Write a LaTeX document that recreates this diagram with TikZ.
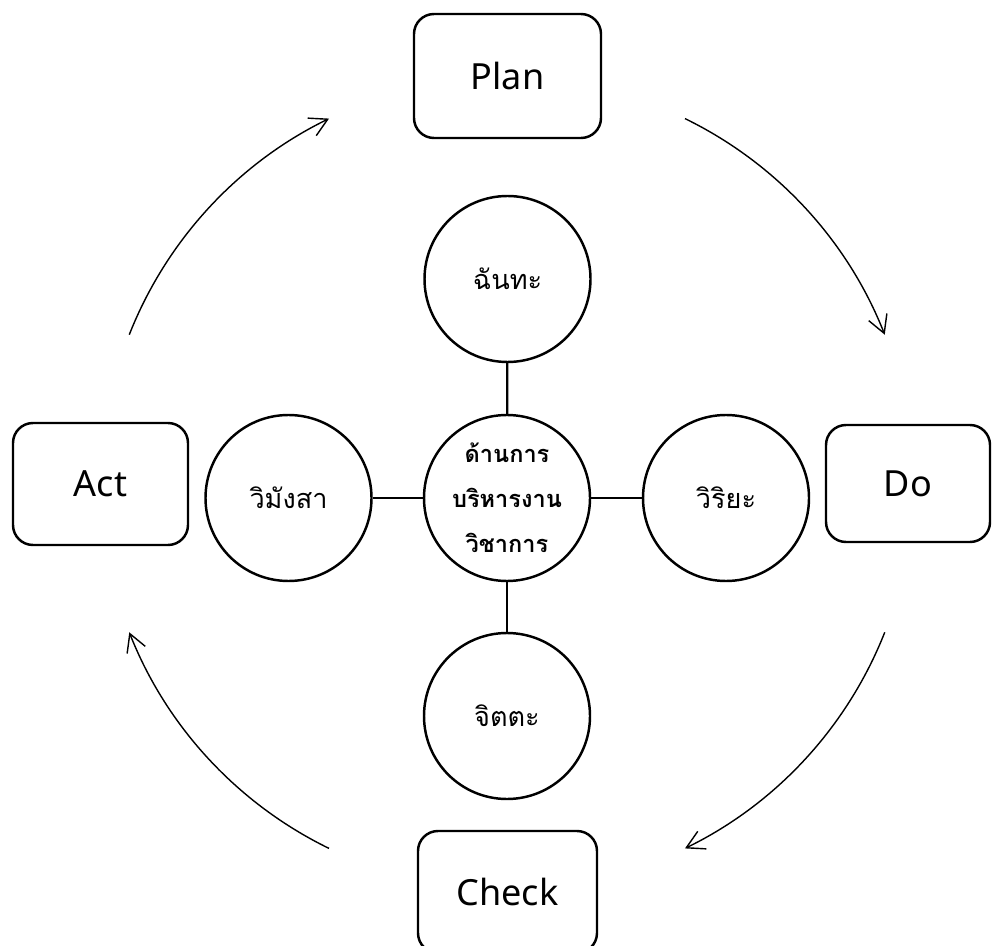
\documentclass[tikz,border=0pt]{standalone}
\usepackage{fontspec}
\setmainfont{Noto Sans}
\newfontfamily\thaifont[Script=Thai]{Loma}
\usetikzlibrary{arrows.meta}
\tikzset{
  phase/.style={draw, line width=1.4pt, rounded corners=0.4cm, inner sep=0pt,
    font=\fontsize{20.5}{24}\selectfont},
  part/.style={draw, circle, line width=1.4pt, minimum size=3.32cm, inner sep=0pt,
    align=center, font=\thaifont\fontsize{15.4}{20}\selectfont},
  cycle/.style={-{Straight Barb[length=3.5mm,width=3.9mm]}, line width=0.8pt},
}
\begin{document}
\begin{tikzpicture}
      \useasboundingbox (0,0) rectangle (19.84,-18.92);
      % the four parts round the centre
      \node [part] (chanda) at (10.15,-5.58) {ฉันทะ};
      \node [part, font=\thaifont\bfseries\fontsize{13.4}{25.5}\selectfont] (core) at (10.14,-9.96) {ด้านการ\\บริหารงาน\\วิชาการ};
      \node [part] (viriya) at (14.52,-9.96) {วิริยะ};
      \node [part] (citta) at (10.14,-14.32) {จิตตะ};
      \node [part] (vimamsa) at (5.77,-9.96) {วิมังสา};
      \draw [line width=1.3pt] (core) -- (chanda);
      \draw [line width=1.3pt] (core) -- (viriya);
      \draw [line width=1.3pt] (core) -- (citta);
      \draw [line width=1.3pt] (core) -- (vimamsa);
      % PDCA boxes
      \node [phase, minimum width=3.74cm, minimum height=2.48cm] (plan) at (10.15,-1.52) {Plan};
      \node [phase, minimum width=3.28cm, minimum height=2.34cm] (do) at (18.16,-9.67) {Do};
      \node [phase, minimum width=3.58cm, minimum height=2.44cm] (check) at (10.15,-17.84) {Check};
      \node [phase, minimum width=3.5cm, minimum height=2.44cm] (act) at (2.01,-9.68) {Act};
      % cycle arrows
      \coordinate (mid) at (10.14,-9.67);
      \draw [cycle] ([shift={(64:8.12)}]mid) arc [start angle=64, end angle=21.5, radius=8.12];
      \draw [cycle] ([shift={(-21.5:8.12)}]mid) arc [start angle=-21.5, end angle=-64, radius=8.12];
      \draw [cycle] ([shift={(-116:8.12)}]mid) arc [start angle=-116, end angle=-158.5, radius=8.12];
      \draw [cycle] ([shift={(158.5:8.12)}]mid) arc [start angle=158.5, end angle=116, radius=8.12];
\end{tikzpicture}
\end{document}
